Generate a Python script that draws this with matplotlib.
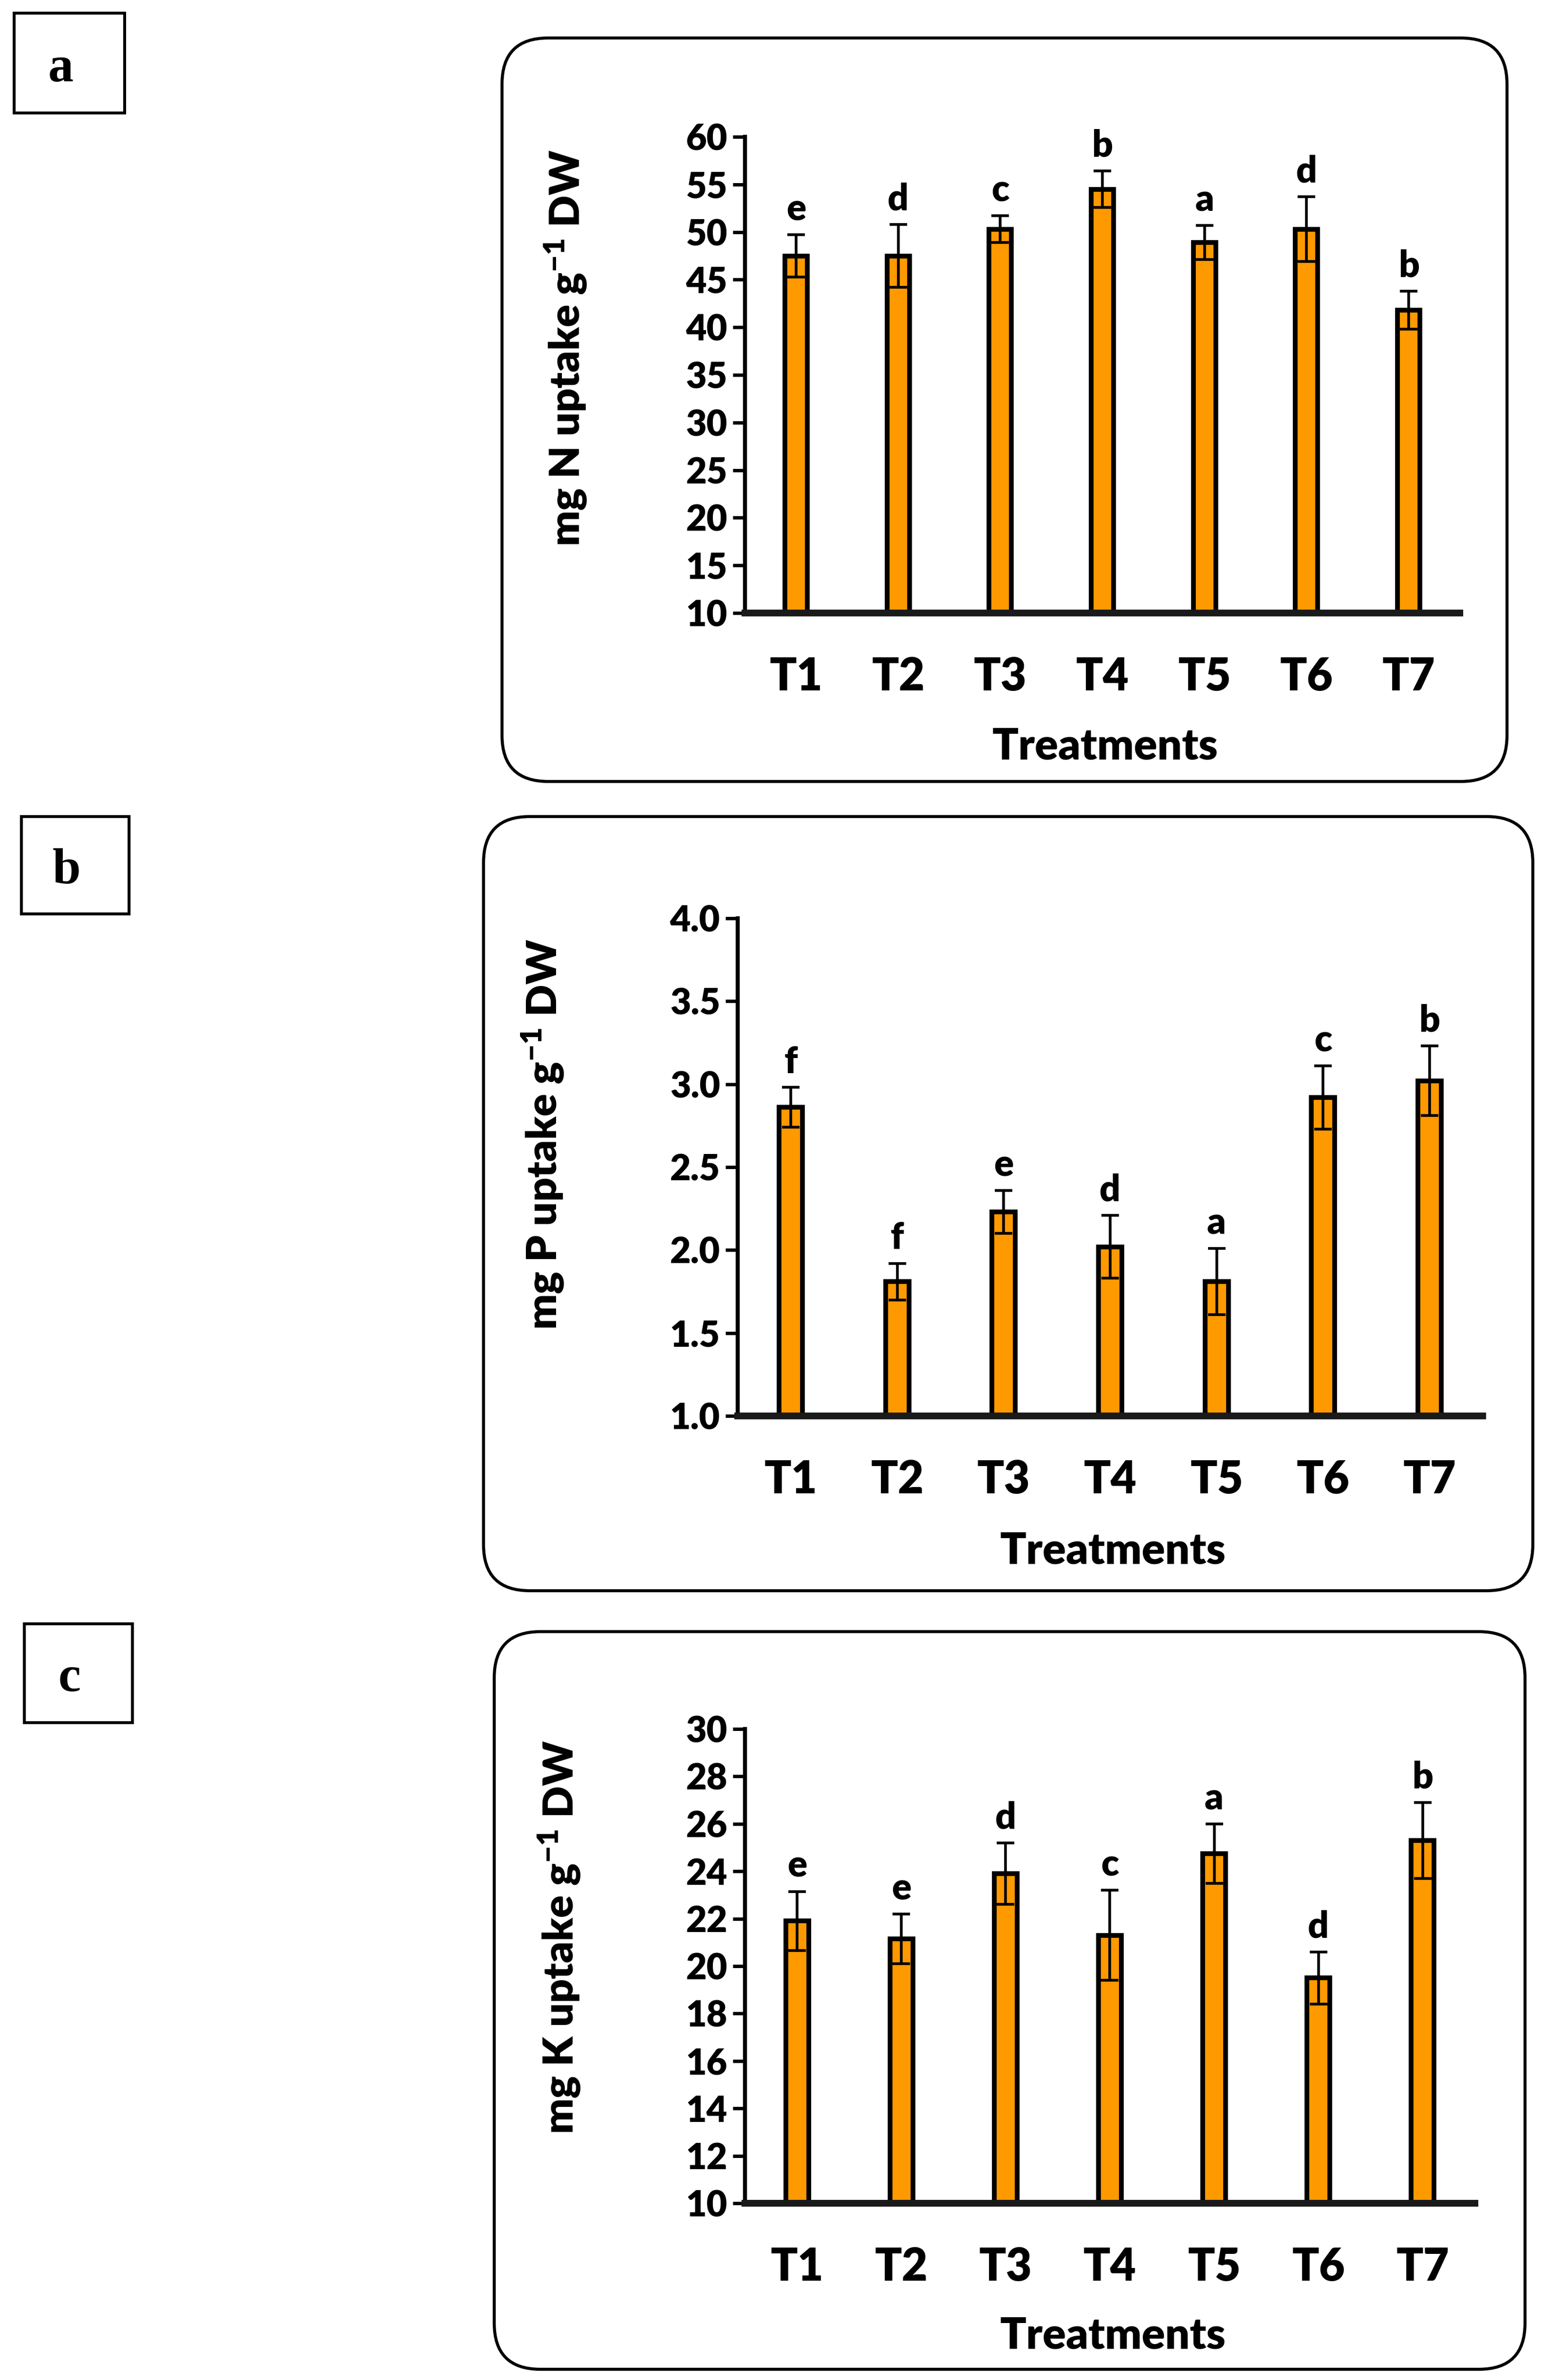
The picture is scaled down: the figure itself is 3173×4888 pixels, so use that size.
import matplotlib
matplotlib.use('Agg')
import matplotlib.pyplot as plt
from matplotlib.patches import FancyBboxPatch, Rectangle
import numpy as np

WEIGHT = 'heavy'
plt.rcParams['font.family'] = ['Lato', 'DejaVu Sans']
plt.rcParams['font.weight'] = WEIGHT
plt.rcParams['mathtext.fontset'] = 'custom'
plt.rcParams['mathtext.rm'] = 'Lato:heavy'
plt.rcParams['mathtext.bf'] = 'Lato:heavy'
plt.rcParams['mathtext.default'] = 'bf'

# ---------------- data ----------------
treatments = ['T1', 'T2', 'T3', 'T4', 'T5', 'T6', 'T7']

n_mean = [47.5, 47.5, 50.3, 54.5, 48.9, 50.3, 41.8]
n_err = [2.2, 3.3, 1.4, 1.9, 1.8, 3.4, 2.0]
n_letters = ['e', 'd', 'c', 'b', 'a', 'd', 'b']
n_ticks = [10, 15, 20, 25, 30, 35, 40, 45, 50, 55, 60]

p_mean = [2.86, 1.81, 2.23, 2.02, 1.81, 2.92, 3.02]
p_err = [0.12, 0.11, 0.13, 0.19, 0.20, 0.19, 0.21]
p_letters = ['f', 'f', 'e', 'd', 'a', 'c', 'b']
p_ticks = [1.0, 1.5, 2.0, 2.5, 3.0, 3.5, 4.0]

k_mean = [21.9, 21.15, 23.9, 21.3, 24.75, 19.5, 25.3]
k_err = [1.25, 1.05, 1.3, 1.9, 1.25, 1.1, 1.6]
k_letters = ['e', 'e', 'd', 'c', 'a', 'd', 'b']
k_ticks = [10, 12, 14, 16, 18, 20, 22, 24, 26, 28, 30]

ylabels = [r'mg N uptake g$^{-1}$ DW', r'mg P uptake g$^{-1}$ DW', r'mg K uptake g$^{-1}$ DW']
panel_tags = ['a', 'b', 'c']

# ---------------- layout (pixels) ----------------
W, H = 3173, 4888
fig = plt.figure(figsize=(W / 100, H / 100), dpi=100)
bg = fig.add_axes([0, 0, 1, 1])
bg.set_xlim(0, W)
bg.set_ylim(H, 0)
bg.axis('off')

panels = [
    dict(mean=n_mean, err=n_err, letters=n_letters, ticks=n_ticks, fmt='{:.0f}',
         box=(1031, 78, 3095, 1605), ax=(1530, 281, 2998, 1259),
         tag=(29, 27, 256, 232), ylab=(1162, 715), xlab=(2270, 1533)),
    dict(mean=p_mean, err=p_err, letters=p_letters, ticks=p_ticks, fmt='{:.1f}',
         box=(993, 1677, 3148, 3267), ax=(1515, 1886, 3045, 2908),
         tag=(44, 1677, 265, 1877), ylab=(1115, 2330), xlab=(2286, 3186)),
    dict(mean=k_mean, err=k_err, letters=k_letters, ticks=k_ticks, fmt='{:.0f}',
         box=(1015, 3351, 3132, 4866), ax=(1530, 3551, 3029, 4525),
         tag=(50, 3335, 272, 3538), ylab=(1149, 3979), xlab=(2286, 4797)),
]

x = np.arange(len(treatments))
for i, p in enumerate(panels):
    bx0, by0, bx1, by1 = p['box']
    bg.add_patch(FancyBboxPatch((bx0, by0), bx1 - bx0, by1 - by0,
                                boxstyle='round,pad=0,rounding_size=95',
                                fc='none', ec='black', lw=4.5))
    tx0, ty0, tx1, ty1 = p['tag']
    bg.add_patch(Rectangle((tx0, ty0), tx1 - tx0, ty1 - ty0, fc='none', ec='black', lw=4.3))
    bg.text((tx0 + tx1) / 2 - 18, (ty0 + ty1) / 2 + 12, panel_tags[i], ha='center', va='center',
            fontsize=75, fontweight='bold', family=['Liberation Serif'])

    l, t, r, b = p['ax']
    ax = fig.add_axes([l / W, 1 - b / H, (r - l) / W, (b - t) / H])
    ax.patch.set_alpha(0)
    ax.bar(x, p['mean'], width=0.22, bottom=0, color='#FF9900', edgecolor='black',
           linewidth=7, zorder=2)
    ax.errorbar(x, p['mean'], yerr=p['err'], fmt='none', ecolor='black', elinewidth=4,
                capsize=13, capthick=4, zorder=3)
    for xi, m, e, let in zip(x, p['mean'], p['err'], p['letters']):
        ax.annotate(let, (xi, m + e), xytext=(0, 12), textcoords='offset points',
                    ha='center', va='bottom', fontsize=54, fontweight=WEIGHT)
    ax.set_xlim(-0.5, 6.5)
    ax.set_ylim(p['ticks'][0], p['ticks'][-1])
    ax.set_yticks(p['ticks'])
    ax.set_yticklabels([p['fmt'].format(v) for v in p['ticks']])
    ax.set_xticks(x)
    ax.set_xticklabels(treatments)
    for s in ['top', 'right']:
        ax.spines[s].set_visible(False)
    ax.spines['left'].set_linewidth(6)
    ax.spines['bottom'].set_linewidth(10)
    ax.spines['bottom'].set_color('#1a1a1a')
    ax.tick_params(axis='y', length=18, width=5, direction='out', pad=8, labelsize=53)
    ax.tick_params(axis='x', length=0, pad=64, labelsize=66)
    for lab in ax.get_xticklabels() + ax.get_yticklabels():
        lab.set_fontweight(WEIGHT)

    bg.text(p['ylab'][0], p['ylab'][1], ylabels[i], rotation=90, ha='center', va='center',
            fontsize=62, fontweight=WEIGHT)
    bg.text(p['xlab'][0], p['xlab'][1], 'Treatments', ha='center', va='center',
            fontsize=64, fontweight=WEIGHT)

fig.savefig('out.png', dpi=100)
